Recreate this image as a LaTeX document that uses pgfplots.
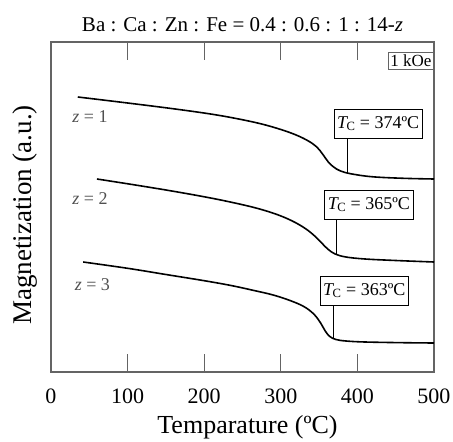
\documentclass[border=0pt]{standalone}
\usepackage{pgfplots}
\pgfplotsset{compat=1.18}
\usepackage{fontspec}
\setmainfont{Liberation Serif}
\definecolor{axgray}{RGB}{100,100,100}
\definecolor{zgray}{RGB}{80,80,80}
\begin{document}
\begin{tikzpicture}
\path[use as bounding box] (-51pt,-70pt) rectangle (402pt,372pt);
\begin{axis}[
  at={(0pt,0pt)}, anchor=south west,
  scale only axis, width=383pt, height=330pt,
  xmin=0, xmax=500, ymin=0, ymax=330,
  clip=false,
  xtick={0,100,200,300,400,500},
  ytick=\empty,
  tick pos=both, xticklabel pos=lower,
  tick align=inside,
  major tick length=18pt,
  axis line style={axgray, line width=1.2pt},
  xtick style={draw=axgray, line width=1.2pt},
  /pgf/number format/assume math mode=true,
  xticklabel style={font=\fontsize{22}{26}\selectfont, anchor=base, yshift=-31pt},
  xlabel={Temparature (ºC)},
  xlabel style={font=\fontsize{26}{30}\selectfont, at={(axis description cs:0.5,0)}, anchor=base, yshift=-61pt, xshift=5pt},
  ylabel={Magnetization (a.u.)},
  ylabel style={font=\fontsize{27}{30}\selectfont, at={(axis description cs:-0.068,0.476)}, anchor=center},
]
% tick marks (inward, bottom and top)
\addplot[axgray, line width=1.2pt, forget plot] coordinates {(100,0) (100,18)};
\addplot[axgray, line width=1.2pt, forget plot] coordinates {(200,0) (200,18)};
\addplot[axgray, line width=1.2pt, forget plot] coordinates {(300,0) (300,18)};
\addplot[axgray, line width=1.2pt, forget plot] coordinates {(400,0) (400,18)};
\addplot[axgray, line width=1.2pt, forget plot] coordinates {(100,330) (100,312)};
\addplot[axgray, line width=1.2pt, forget plot] coordinates {(200,330) (200,312)};
\addplot[axgray, line width=1.2pt, forget plot] coordinates {(300,330) (300,312)};
\addplot[axgray, line width=1.2pt, forget plot] coordinates {(400,330) (400,312)};
% z = 1
\addplot[black, line width=1.6pt, smooth, tension=0.6] coordinates {
(35,275) (100,269) (160,263.2) (210,257.8) (245,253) (275,248) (300,242.5) (320,237)
(336,231) (347,225) (355,217.5) (362,210) (369,205) (378,201) (393,198) (420,195.2)
(460,193.7) (500,193)
};
% z = 2
\addplot[black, line width=1.6pt, smooth, tension=0.6] coordinates {
(60,193) (110,187) (160,180.7) (205,174.5) (240,169) (270,163.5) (295,157.5) (315,151)
(332,143.5) (345,135.5) (354,128.5) (362,122.5) (371,118) (385,115) (410,113) (450,111.5) (500,110)
};
% z = 3
\addplot[black, line width=1.6pt, smooth, tension=0.6] coordinates {
(42,110) (100,103.7) (150,97.5) (200,91.3) (235,86.5) (265,81.5) (290,77) (312,71.5)
(330,65.5) (343,58) (352,49) (358,41) (364,35.5) (372,32.5) (385,31) (410,30) (460,29.3) (500,29)
};
% Tc markers
\addplot[black, line width=1.4pt] coordinates {(387,234) (387,199.3)};
\addplot[black, line width=1.4pt] coordinates {(373,153) (373,117.6)};
\addplot[black, line width=1.4pt] coordinates {(369,67) (369,33.5)};
\node[draw=black, line width=0.8pt, fill=white, inner xsep=3pt, inner ysep=3pt, minimum height=29pt,
  font=\fontsize{18}{20}\selectfont, anchor=center] at (axis cs:427,248.5) {{\itshape T}\kern-0.5pt\textsubscript{C} = 374ºC};
\node[draw=black, line width=0.8pt, fill=white, inner xsep=3pt, inner ysep=3pt, minimum height=29pt,
  font=\fontsize{18}{20}\selectfont, anchor=center] at (axis cs:415,167.5) {{\itshape T}\kern-0.5pt\textsubscript{C} = 365ºC};
\node[draw=black, line width=0.8pt, fill=white, inner xsep=3pt, inner ysep=3pt, minimum height=29pt,
  font=\fontsize{18}{20}\selectfont, anchor=center] at (axis cs:409,81.5) {{\itshape T}\kern-0.5pt\textsubscript{C} = 363ºC};
% 1 kOe
\node[draw=axgray, line width=1pt, fill=white, inner xsep=2pt, inner ysep=1.5pt, minimum height=17pt,
  font=\fontsize{17}{19}\selectfont, anchor=north east] at (axis cs:500,320) {1 kOe};
% z labels
\node[text=zgray, font=\fontsize{18}{20}\selectfont] at (axis cs:51,255) {{\itshape z} = 1};
\node[text=zgray, font=\fontsize{18}{20}\selectfont] at (axis cs:51,173) {{\itshape z} = 2};
\node[text=zgray, font=\fontsize{18}{20}\selectfont] at (axis cs:54,87) {{\itshape z} = 3};
% title
\node[font=\fontsize{21}{24}\selectfont, anchor=base] at (rel axis cs:0.5,1) [yshift=10pt]
  {Ba : Ca : Zn : Fe = 0.4 : 0.6 : 1 : 14-{\itshape z}};
\end{axis}
\end{tikzpicture}
\end{document}
